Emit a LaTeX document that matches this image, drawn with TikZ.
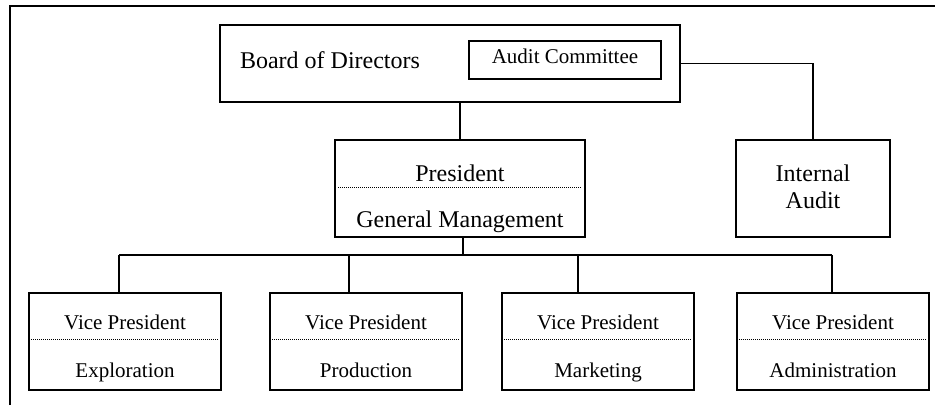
\documentclass[tikz,border=0pt]{standalone}
\usepackage{fontspec}
\setmainfont{Liberation Serif}
\begin{document}
\begin{tikzpicture}[x=1pt, y=-1pt,
  box/.style={draw, line width=1.5pt, rectangle, inner sep=0pt},
  big/.style={font=\fontsize{24}{26}\selectfont, inner sep=0pt, anchor=base},
  small/.style={font=\fontsize{21}{23}\selectfont, inner sep=0pt, anchor=base},
  wire/.style={line width=1.5pt},
  divider/.style={line width=1pt, dash pattern=on 1pt off 1pt}]
\useasboundingbox (0,0) rectangle (935,405);

% outer frame (open at right and bottom)
\draw[line width=1.8pt] (10,405) -- (10,6) -- (935,6);

% board and its committee
\node[box, minimum width=460pt, minimum height=77pt] (board) at (450,63.5) {};
\node[box, minimum width=192pt, minimum height=38pt] (audit) at (565,60) {};
\node[big] (boardtxt) at (330,68) {Board of Directors};
\node[small] (audittxt) at (565,63) {Audit Committee};

% president
\node[box, minimum width=250pt, minimum height=97pt] (pres) at (460,188.5) {};
\node[big] (prestxt) at (460,181) {President};
\node[big] (gmtxt) at (460,227) {General Management};
\coordinate (pdl) at (338,187);
\coordinate (pdr) at (582,187);
\draw[divider] (pdl) -- (pdr);

% internal audit
\node[box, minimum width=154pt, minimum height=97pt] (ia) at (813,188.5) {};
\node[big] (iatxt1) at (813,181) {Internal};
\node[big] (iatxt2) at (813,208) {Audit};

% vice presidents, each with its drop point on the bus
\foreach \n/\cx/\dx/\dept in {1/125/119/Exploration, 2/366/349/Production, 3/598/578/Marketing, 4/833/832/Administration}{
  \node[box, minimum width=192pt, minimum height=97pt] (vp\n) at (\cx,341.5) {};
  \node[small] (vpa\n) at (\cx,329) {Vice President};
  \node[small] (vpb\n) at (\cx,377) {\dept};
  \coordinate (dl\n) at (\cx-94,339);
  \coordinate (dr\n) at (\cx+94,339);
  \draw[divider] (dl\n) -- (dr\n);
  \coordinate (drop\n) at (\dx,255);
  \draw[wire] (drop\n) -- (drop\n |- vp\n.north);
}

% connectors
\draw[wire] (pres.north |- board.south) -- (pres.north);
\draw[wire] (board.east) -| (ia.north);
\coordinate (bus) at (463,255);
\draw[wire] (bus |- pres.south) -- (bus);
\draw[wire] (drop1) -- (drop4);
\end{tikzpicture}
\end{document}
